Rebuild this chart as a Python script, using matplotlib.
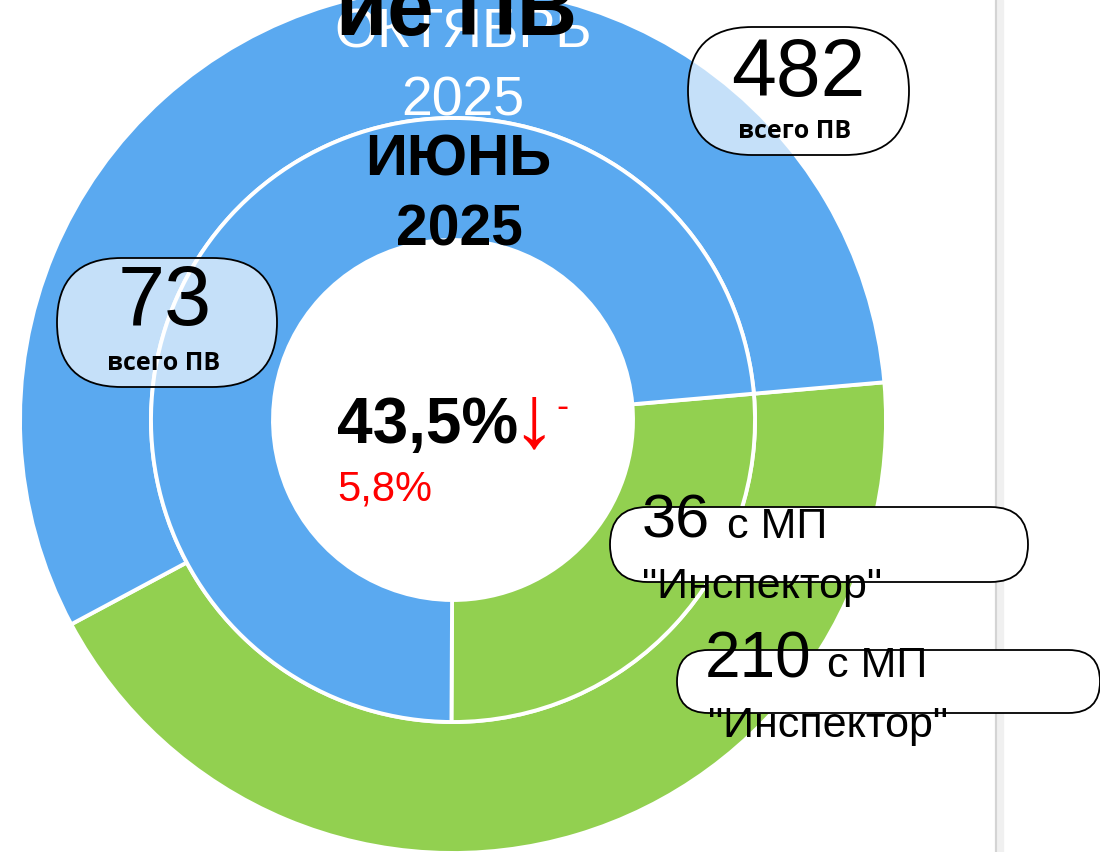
import matplotlib.pyplot as plt
from matplotlib.patches import FancyBboxPatch

W, H = 1100, 852

# data
outer_labels = ["с МП \"Инспектор\"", "прочие"]
outer_values = [210, 272]      # октябрь 2025, всего 482
inner_values = [36, 100]       # июнь 2025
ring_colors = ["#92D050", "#5AA9F0"]

share_now = "43,5%"
share_delta = "5,8%"

plt.rcParams['font.family'] = ['Liberation Sans', 'DejaVu Sans']


def py(y):
    # pixel row (from top) -> data y
    return H - y


fig = plt.figure(figsize=(W / 100, H / 100), dpi=100)
ax = fig.add_axes([0, 0, 1, 1])

cx, cy = 453, py(420)
wp = dict(edgecolor="white", linewidth=2.8)

# outer ring (октябрь) and inner ring (июнь)
ax.pie(outer_values, colors=ring_colors, radius=433, center=(cx, cy),
       startangle=5, counterclock=False, frame=True,
       wedgeprops=dict(width=131, **wp))
ax.pie(inner_values, colors=ring_colors, radius=302, center=(cx, cy),
       startangle=5, counterclock=False, frame=True,
       wedgeprops=dict(width=122, **wp))

# gray divider on the right
ax.axvspan(995, 1003, color="#f0f0f0", zorder=1)
ax.axvline(996, color="#d4d4d4", lw=1.5, zorder=1)

# ring titles
ax.text(463, py(47), "ОКТЯБРЬ", color="white", fontsize=40, ha="center", va="baseline", zorder=5)
ax.text(463, py(115), "2025", color="white", fontsize=40, ha="center", va="baseline", zorder=5)
ax.text(457, py(35), "ие ПВ", color="black", fontsize=60, fontweight="bold", ha="center", va="baseline", zorder=6)
ax.text(458, py(175), "ИЮНЬ", color="black", fontsize=42, fontweight="bold", ha="center", va="baseline", zorder=5)
ax.text(459, py(245), "2025", color="black", fontsize=41, fontweight="bold", ha="center", va="baseline", zorder=5)

# center
ax.text(337, py(443), share_now, color="black", fontsize=46, fontweight="bold", ha="left", va="baseline", zorder=5)
ax.text(511, py(446), "↓", color="red", fontsize=64, ha="left", va="baseline", zorder=5)
ax.text(556, py(417), "-", color="red", fontsize=26, ha="left", va="baseline", zorder=5)
ax.text(337, py(500), share_delta, color="red", fontsize=30, ha="left", va="baseline", zorder=5)


def pill(x0, y0, x1, y1, fc, alpha):
    h = y1 - y0
    style = f"round,pad=0,rounding_size={h / 2}"
    box = FancyBboxPatch((x0, py(y1)), x1 - x0, h, boxstyle=style,
                         facecolor=fc, alpha=alpha, edgecolor="none", zorder=3)
    edge = FancyBboxPatch((x0, py(y1)), x1 - x0, h, boxstyle=style,
                          facecolor="none", edgecolor="black", lw=1.3, zorder=3.1)
    ax.add_patch(box)
    ax.add_patch(edge)


# totals
pill(688, 27, 909, 155, "white", 0.65)
ax.text(798, py(96), str(sum(outer_values)), fontsize=58, ha="center", va="baseline", zorder=5)
ax.text(795, py(138), "всего ПВ", fontsize=18, fontweight="bold", ha="center", va="baseline",
        family=["Open Sans", "DejaVu Sans"], zorder=5)

pill(57, 258, 277, 387, "white", 0.65)
ax.text(165, py(325), "73", fontsize=61, ha="center", va="baseline", zorder=5)
ax.text(164, py(370), "всего ПВ", fontsize=18, fontweight="bold", ha="center", va="baseline",
        family=["Open Sans", "DejaVu Sans"], zorder=5)

# inspector labels
pill(610, 507, 1028, 582, "white", 1.0)
ax.text(642, py(538), str(inner_values[0]), fontsize=44, ha="left", va="baseline", zorder=5)
ax.text(727, py(538), "с МП", fontsize=31, ha="left", va="baseline", zorder=5)
ax.text(642, py(598), "\"Инспектор\"", fontsize=31, ha="left", va="baseline", zorder=5)

pill(677, 650, 1100, 713, "white", 1.0)
ax.text(705, py(677), str(outer_values[0]), fontsize=46, ha="left", va="baseline", zorder=5)
ax.text(827, py(677), "с МП", fontsize=31, ha="left", va="baseline", zorder=5)
ax.text(708, py(737), "\"Инспектор\"", fontsize=31, ha="left", va="baseline", zorder=5)

ax.set_xlim(0, W)
ax.set_ylim(0, H)
ax.set_aspect("equal")
ax.axis("off")

fig.savefig("out.png", dpi=100)
